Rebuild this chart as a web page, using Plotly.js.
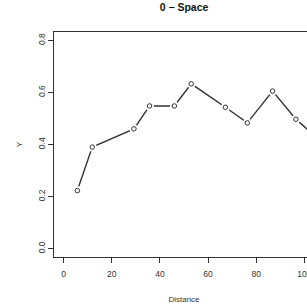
<!DOCTYPE html>
<html>
<head>
<meta charset="utf-8">
<script src="https://cdn.plot.ly/plotly-3.0.1.min.js"></script>
<style>
html,body{margin:0;padding:0;overflow:hidden;background:#fff;width:307px;height:305px;}
#chart{width:330px;height:305px;}
</style>
</head>
<body>
<div id="chart"></div>
<script>
// Data
var distance = [5.7, 11.9, 29.2, 35.7, 46, 53, 67.2, 76.3, 86.8, 96.5, 106.5];
var yValues  = [0.223, 0.39, 0.46, 0.548, 0.548, 0.633, 0.543, 0.483, 0.605, 0.497, 0.415];
var xTicks = [0, 20, 40, 60, 80, 100];
var yTicks = [0.0, 0.2, 0.4, 0.6, 0.8];
var yTickText = ["0.0", "0.2", "0.4", "0.6", "0.8"];

var ink = "#333333";
var traces = [
  {x: distance, y: yValues, type: "scatter", mode: "lines",
   line: {color: ink, width: 1.4}, hoverinfo: "skip", cliponaxis: true},
  {x: distance, y: yValues, type: "scatter", mode: "markers",
   marker: {symbol: "circle", size: 9, color: "#ffffff", line: {width: 0}}, cliponaxis: true},
  {x: distance, y: yValues, type: "scatter", mode: "markers",
   marker: {symbol: "circle-open", size: 4.5, color: ink, line: {width: 1, color: ink}}, cliponaxis: true}
];

var layout = {
  width: 330, height: 305,
  margin: {l: 54, r: 16, t: 32, b: 48, pad: 0},
  showlegend: false,
  paper_bgcolor: "#ffffff", plot_bgcolor: "#ffffff",
  font: {family: "Liberation Sans, Arial, sans-serif", color: "#222222", size: 8},
  title: {text: "<b>0 \u2212 Space</b>", x: 0.5, xref: "paper", xanchor: "center",
          y: 1, yref: "container", yanchor: "top", pad: {t: 4},
          font: {size: 10.5, color: "#111111", family: "Liberation Sans, Arial, sans-serif"}},
  xaxis: {
    range: [-4, 104], tickvals: xTicks, ticktext: xTicks.map(String),
    showgrid: false, zeroline: false, showline: true, mirror: true,
    linecolor: ink, linewidth: 1, ticks: "outside", ticklen: 5, tickwidth: 1, tickcolor: ink,
    ticklabelstandoff: 4,
    tickfont: {size: 8.5, color: "#333333"},
    title: {text: "Distance", font: {size: 8, color: "#333333"}, standoff: 18}
  },
  yaxis: {
    range: [-0.032, 0.832], tickvals: yTicks, ticktext: yTickText,
    showgrid: false, zeroline: false, showline: true, mirror: true,
    linecolor: ink, linewidth: 1, ticks: "outside", ticklen: 5, tickwidth: 1, tickcolor: ink,
    tickangle: -90, tickfont: {size: 8.5, color: "#333333"},
    title: {text: "Y", font: {size: 8, color: "#333333"}, standoff: 12}
  }
};

Plotly.newPlot("chart", traces, layout, {displayModeBar: false, staticPlot: true});
</script>
</body>
</html>
